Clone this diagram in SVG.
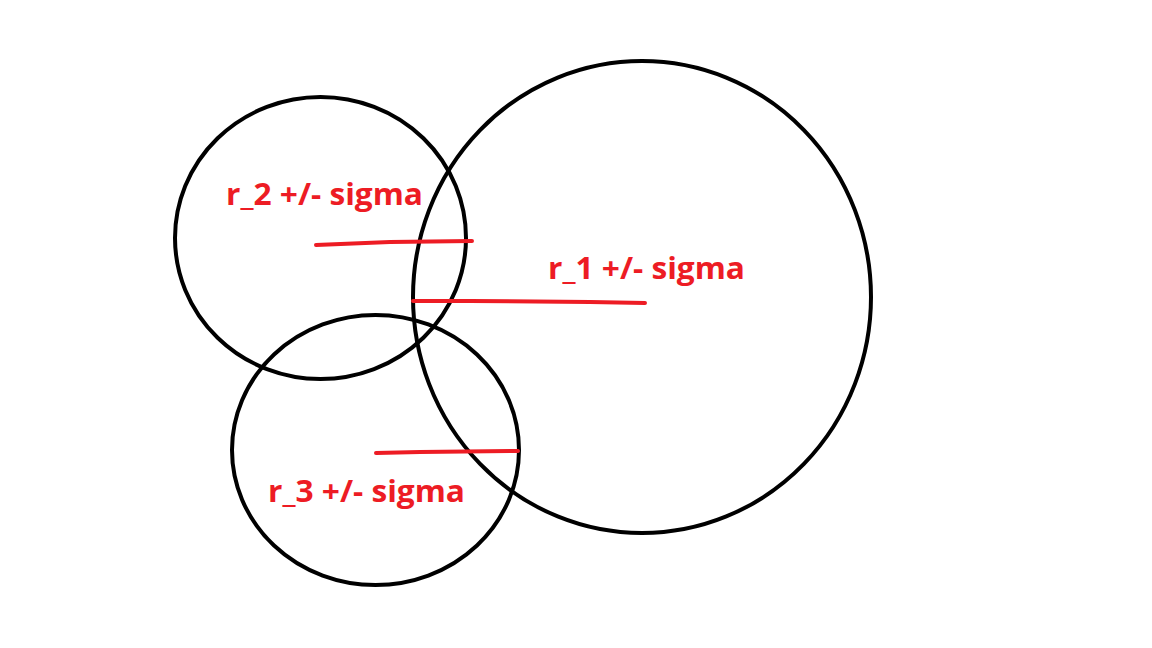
<svg xmlns="http://www.w3.org/2000/svg" width="1152" height="648" viewBox="0 0 1152 648">
<style>
.c{fill:none;stroke:#000;stroke-width:4}
.r{fill:none;stroke:#ED1C24;stroke-width:4;stroke-linecap:round}
.t{fill:#ED1C24;font-family:"Open Sans","Liberation Sans",sans-serif;font-weight:bold;font-size:30px}
</style>
<rect width="1152" height="648" fill="#fff"/>
<g id="circle1"><ellipse class="c" cx="642" cy="297" rx="229" ry="236"/></g>
<g id="circle2"><ellipse class="c" cx="320.5" cy="238" rx="145.5" ry="141"/></g>
<g id="circle3"><ellipse class="c" cx="375.5" cy="450" rx="143.5" ry="135"/></g>
<g id="connectors">
<polyline class="r" points="316,245 390,242 472,241"/>
<polyline class="r" points="413,301 470,301 590,302 645,303"/>
<polyline class="r" points="376,453 420,452 518,451"/>
</g>
<g id="label2"><text class="t" x="226" y="205" textLength="197" lengthAdjust="spacingAndGlyphs">r_2 +/- sigma</text></g>
<g id="label1"><text class="t" x="548" y="279" textLength="197" lengthAdjust="spacingAndGlyphs">r_1 +/- sigma</text></g>
<g id="label3"><text class="t" x="268" y="502" textLength="197" lengthAdjust="spacingAndGlyphs">r_3 +/- sigma</text></g>
</svg>
